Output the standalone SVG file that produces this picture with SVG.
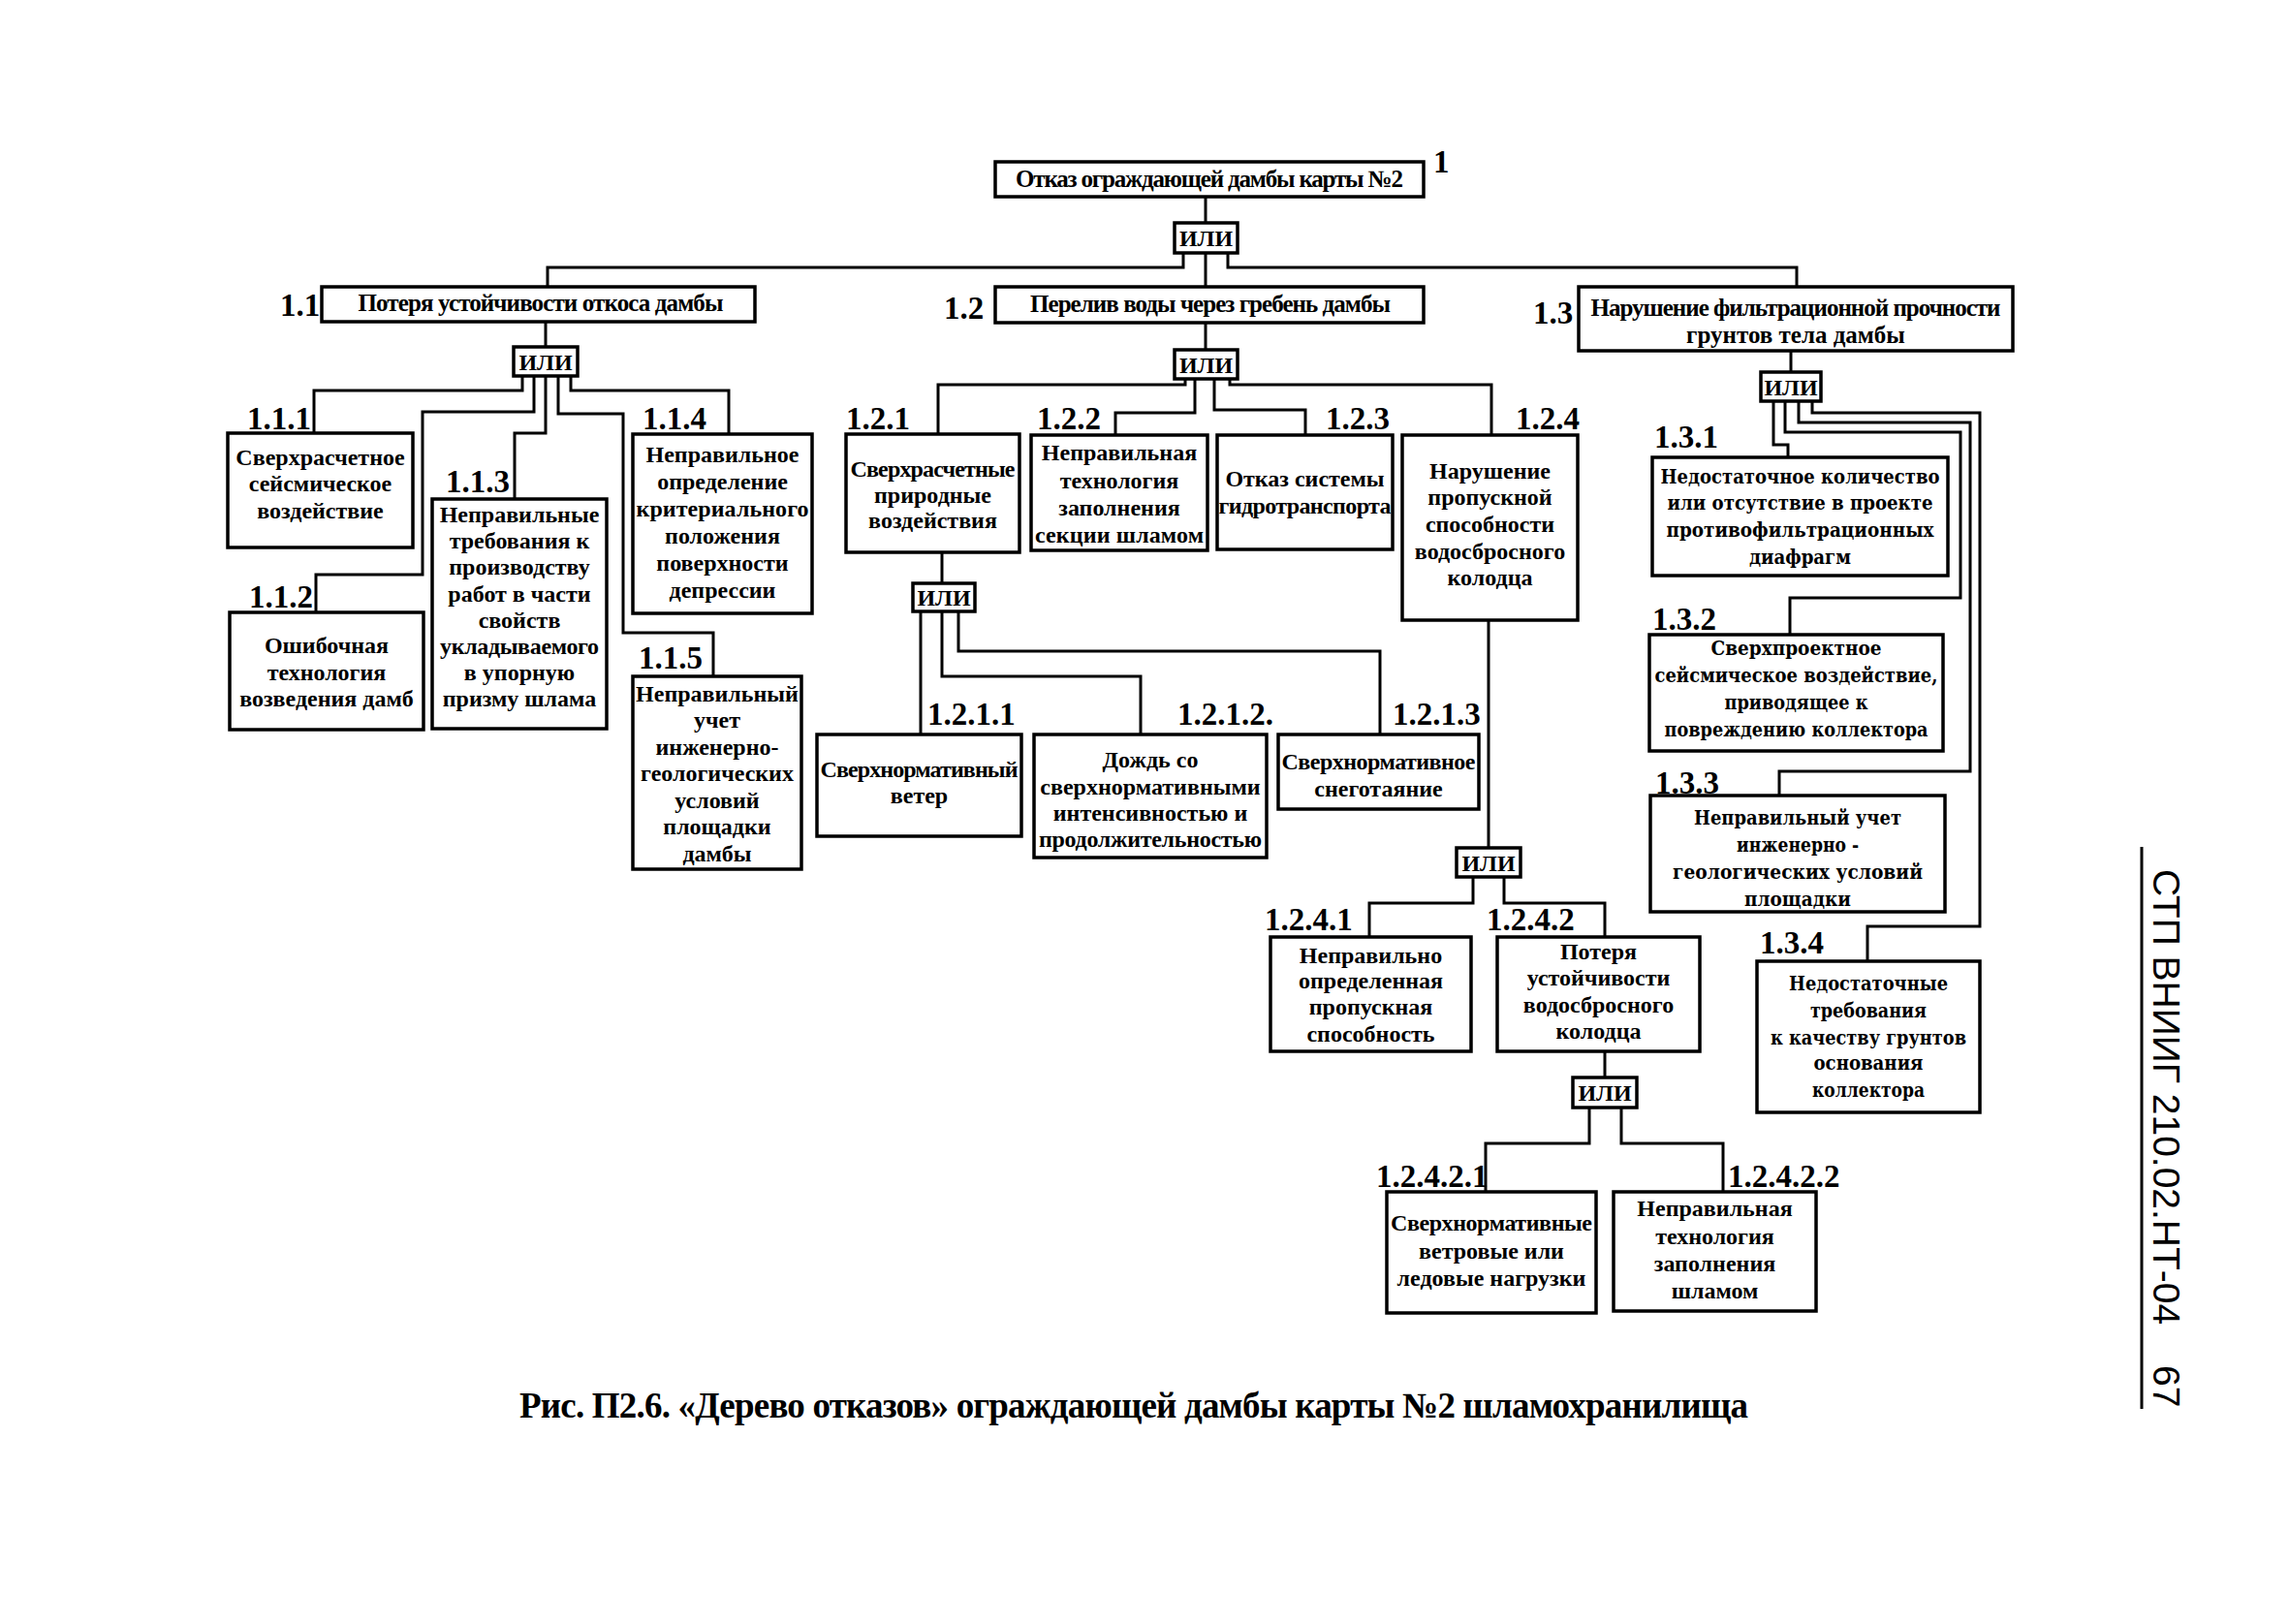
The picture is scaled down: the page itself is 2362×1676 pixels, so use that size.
<svg xmlns="http://www.w3.org/2000/svg" width="2362" height="1676" viewBox="0 0 2362 1676">
<style>
.bx{fill:#fff;stroke:#000;stroke-width:3.5}
.c{fill:none;stroke:#000;stroke-width:3}
.t{font-family:"Liberation Serif",serif;font-weight:bold;font-size:24px;text-anchor:middle}
.tn{font-family:"Liberation Serif",serif;font-weight:bold;font-size:25px;text-anchor:middle}
.w{font-family:"DejaVu Serif",serif;font-weight:bold;font-size:20px;text-anchor:middle}
.lb{font-family:"Liberation Serif",serif;font-weight:bold;font-size:33px}
.g{font-family:"Liberation Serif",serif;font-weight:bold;font-size:24px;text-anchor:middle}
.cap{font-family:"Liberation Serif",serif;font-weight:bold;font-size:37px}
.hdr{font-family:"Liberation Sans",sans-serif;font-size:39px}
</style>
<rect width="2362" height="1676" fill="#fff"/>

<g id="connectors">
<path class="c" d="M1244 203V230"/>
<path class="c" d="M1221 261V276H565V295"/>
<path class="c" d="M1244 261V296"/>
<path class="c" d="M1267 261V276H1854V296"/>
<path class="c" d="M563 332V358"/>
<path class="c" d="M539 388V403H324V447"/>
<path class="c" d="M551 388V425H436V593H326V632"/>
<path class="c" d="M563 388V447H531V515"/>
<path class="c" d="M576 388V427H643V653H736V698"/>
<path class="c" d="M589 388V403H752V448"/>
<path class="c" d="M1244 333V361"/>
<path class="c" d="M1223 391V397H968V448"/>
<path class="c" d="M1233 391V426H1151V449"/>
<path class="c" d="M1253 391V423H1347V449"/>
<path class="c" d="M1269 391V397H1539V449"/>
<path class="c" d="M972 570V602"/>
<path class="c" d="M950 631V758"/>
<path class="c" d="M972 631V698H1177V758"/>
<path class="c" d="M989 631V672H1424V758"/>
<path class="c" d="M1536 640V875"/>
<path class="c" d="M1520 905V932H1413V967"/>
<path class="c" d="M1552 905V932H1656V967"/>
<path class="c" d="M1656 1085V1112"/>
<path class="c" d="M1640 1143V1180H1533V1230"/>
<path class="c" d="M1673 1143V1180H1778V1230"/>
<path class="c" d="M1848 362V384"/>
<path class="c" d="M1830 414V459H1845V472"/>
<path class="c" d="M1842 414V446H2023V617H1847V655"/>
<path class="c" d="M1856 414V436H2033V796H1836V821"/>
<path class="c" d="M1870 414V426H2043V956H1927V992"/>
</g>

<g id="n1">
<rect class="bx" x="1027" y="167" width="442" height="36"/>
<text class="tn" x="1248" y="193" font-size="26" textLength="400">Отказ ограждающей дамбы карты №2</text>
<text class="lb" x="1479" y="178" font-size="30">1</text>
</g>
<g id="gate1"><rect class="bx" x="1212" y="230" width="65" height="31"/><text class="g" x="1244.5" y="254">ИЛИ</text></g>

<g id="n1-1">
<rect class="bx" x="332" y="296" width="447" height="36"/>
<text class="tn" x="558" y="321" textLength="377">Потеря устойчивости откоса дамбы</text>
<text class="lb" x="289" y="326" font-size="31">1.1</text>
</g>
<g id="n1-2">
<rect class="bx" x="1027" y="296" width="442" height="37"/>
<text class="tn" x="1249" y="322" textLength="372">Перелив воды через гребень дамбы</text>
<text class="lb" x="974" y="329" font-size="31">1.2</text>
</g>
<g id="n1-3">
<rect class="bx" x="1629" y="296" width="448" height="66"/>
<text class="tn" x="1853" y="326" textLength="423">Нарушение фильтрационной прочности</text>
<text class="tn" x="1853" y="354">грунтов тела дамбы</text>
<text class="lb" x="1582" y="334" font-size="31">1.3</text>
</g>

<g id="gate1-1"><rect class="bx" x="530" y="358" width="66" height="30"/><text class="g" x="563" y="382">ИЛИ</text></g>
<g id="gate1-2"><rect class="bx" x="1212" y="361" width="65" height="30"/><text class="g" x="1244.5" y="385">ИЛИ</text></g>
<g id="gate1-3"><rect class="bx" x="1817" y="384" width="62" height="30"/><text class="g" x="1848" y="408">ИЛИ</text></g>

<g id="n1-1-1">
<rect class="bx" x="235" y="447" width="191" height="118"/>
<text class="t" x="330.5" y="480">Сверхрасчетное</text>
<text class="t" x="330.5" y="507">сейсмическое</text>
<text class="t" x="330.5" y="535">воздействие</text>
<text class="lb" x="255" y="443">1.1.1</text>
</g>
<g id="n1-1-2">
<rect class="bx" x="237" y="632" width="200" height="121"/>
<text class="t" x="337" y="674">Ошибочная</text>
<text class="t" x="337" y="702">технология</text>
<text class="t" x="337" y="729">возведения дамб</text>
<text class="lb" x="257" y="627">1.1.2</text>
</g>
<g id="n1-1-3">
<rect class="bx" x="446" y="515" width="180" height="237"/>
<text class="t" x="536" y="539">Неправильные</text>
<text class="t" x="536" y="566">требования к</text>
<text class="t" x="536" y="593">производству</text>
<text class="t" x="536" y="621">работ в части</text>
<text class="t" x="536" y="648">свойств</text>
<text class="t" x="536" y="675" textLength="164">укладываемого</text>
<text class="t" x="536" y="702">в упорную</text>
<text class="t" x="536" y="729">призму шлама</text>
<text class="lb" x="460" y="508">1.1.3</text>
</g>
<g id="n1-1-4">
<rect class="bx" x="653" y="448" width="185" height="185"/>
<text class="t" x="745.5" y="477">Неправильное</text>
<text class="t" x="745.5" y="505">определение</text>
<text class="t" x="745.5" y="533" textLength="178">критериального</text>
<text class="t" x="745.5" y="561">положения</text>
<text class="t" x="745.5" y="589">поверхности</text>
<text class="t" x="745.5" y="617">депрессии</text>
<text class="lb" x="663" y="443">1.1.4</text>
</g>
<g id="n1-1-5">
<rect class="bx" x="653" y="698" width="174" height="199"/>
<text class="t" x="740" y="724">Неправильный</text>
<text class="t" x="740" y="751">учет</text>
<text class="t" x="740" y="779">инженерно-</text>
<text class="t" x="740" y="806">геологических</text>
<text class="t" x="740" y="834">условий</text>
<text class="t" x="740" y="861">площадки</text>
<text class="t" x="740" y="889">дамбы</text>
<text class="lb" x="659" y="690">1.1.5</text>
</g>

<g id="n1-2-1">
<rect class="bx" x="873" y="448" width="179" height="122"/>
<text class="t" x="962.5" y="492" textLength="170">Сверхрасчетные</text>
<text class="t" x="962.5" y="519">природные</text>
<text class="t" x="962.5" y="545">воздействия</text>
<text class="lb" x="873" y="443">1.2.1</text>
</g>
<g id="n1-2-2">
<rect class="bx" x="1064" y="449" width="182" height="119"/>
<text class="t" x="1155" y="475">Неправильная</text>
<text class="t" x="1155" y="504">технология</text>
<text class="t" x="1155" y="532">заполнения</text>
<text class="t" x="1155" y="560" textLength="174">секции шламом</text>
<text class="lb" x="1070" y="443">1.2.2</text>
</g>
<g id="n1-2-3">
<rect class="bx" x="1256" y="449" width="181" height="118"/>
<text class="t" x="1346.5" y="502">Отказ системы</text>
<text class="t" x="1346.5" y="530" textLength="178">гидротранспорта</text>
<text class="lb" x="1368" y="443">1.2.3</text>
</g>
<g id="n1-2-4">
<rect class="bx" x="1447" y="449" width="181" height="191"/>
<text class="t" x="1537.5" y="494">Нарушение</text>
<text class="t" x="1537.5" y="521">пропускной</text>
<text class="t" x="1537.5" y="549">способности</text>
<text class="t" x="1537.5" y="577">водосбросного</text>
<text class="t" x="1537.5" y="604">колодца</text>
<text class="lb" x="1564" y="443">1.2.4</text>
</g>

<g id="gate1-2-1"><rect class="bx" x="942" y="602" width="64" height="29"/><text class="g" x="974" y="625">ИЛИ</text></g>

<g id="n1-2-1-1">
<rect class="bx" x="843" y="758" width="211" height="105"/>
<text class="t" x="948.5" y="802" textLength="204">Сверхнормативный</text>
<text class="t" x="948.5" y="829">ветер</text>
<text class="lb" x="957" y="748">1.2.1.1</text>
</g>
<g id="n1-2-1-2">
<rect class="bx" x="1067" y="758" width="240" height="127"/>
<text class="t" x="1187" y="792">Дождь со</text>
<text class="t" x="1187" y="820">сверхнормативными</text>
<text class="t" x="1187" y="847">интенсивностью и</text>
<text class="t" x="1187" y="874" textLength="230">продолжительностью</text>
<text class="lb" x="1215" y="748">1.2.1.2.</text>
</g>
<g id="n1-2-1-3">
<rect class="bx" x="1319" y="758" width="207" height="77"/>
<text class="t" x="1422.5" y="794" textLength="200">Сверхнормативное</text>
<text class="t" x="1422.5" y="822">снеготаяние</text>
<text class="lb" x="1437" y="748">1.2.1.3</text>
</g>

<g id="gate1-2-4"><rect class="bx" x="1503" y="875" width="66" height="30"/><text class="g" x="1536" y="899">ИЛИ</text></g>

<g id="n1-2-4-1">
<rect class="bx" x="1311" y="967" width="207" height="118"/>
<text class="t" x="1414.5" y="994">Неправильно</text>
<text class="t" x="1414.5" y="1020">определенная</text>
<text class="t" x="1414.5" y="1047">пропускная</text>
<text class="t" x="1414.5" y="1075">способность</text>
<text class="lb" x="1305" y="960">1.2.4.1</text>
</g>
<g id="n1-2-4-2">
<rect class="bx" x="1545" y="967" width="209" height="118"/>
<text class="t" x="1649.5" y="990">Потеря</text>
<text class="t" x="1649.5" y="1017">устойчивости</text>
<text class="t" x="1649.5" y="1045">водосбросного</text>
<text class="t" x="1649.5" y="1072">колодца</text>
<text class="lb" x="1534" y="960">1.2.4.2</text>
</g>

<g id="gate1-2-4-2"><rect class="bx" x="1623" y="1112" width="66" height="31"/><text class="g" x="1656" y="1136">ИЛИ</text></g>

<g id="n1-2-4-2-1">
<rect class="bx" x="1431" y="1230" width="216" height="125"/>
<text class="t" x="1539" y="1270" textLength="208">Сверхнормативные</text>
<text class="t" x="1539" y="1299">ветровые или</text>
<text class="t" x="1539" y="1327">ледовые нагрузки</text>
<text class="lb" x="1420" y="1225">1.2.4.2.1</text>
</g>
<g id="n1-2-4-2-2">
<rect class="bx" x="1665" y="1230" width="209" height="123"/>
<text class="t" x="1769.5" y="1255">Неправильная</text>
<text class="t" x="1769.5" y="1284">технология</text>
<text class="t" x="1769.5" y="1312">заполнения</text>
<text class="t" x="1769.5" y="1340">шламом</text>
<text class="lb" x="1783" y="1225">1.2.4.2.2</text>
</g>

<g id="n1-3-1">
<rect class="bx" x="1705" y="472" width="305" height="122"/>
<text class="w" x="1857.5" y="499" textLength="288" lengthAdjust="spacingAndGlyphs">Недостаточное количество</text>
<text class="w" x="1857.5" y="526" textLength="274" lengthAdjust="spacingAndGlyphs">или отсутствие в проекте</text>
<text class="w" x="1857.5" y="554" textLength="276" lengthAdjust="spacingAndGlyphs">противофильтрационных</text>
<text class="w" x="1857.5" y="582" textLength="105" lengthAdjust="spacingAndGlyphs">диафрагм</text>
<text class="lb" x="1707" y="462">1.3.1</text>
</g>
<g id="n1-3-2">
<rect class="bx" x="1702" y="655" width="303" height="120"/>
<text class="w" x="1853.5" y="676" textLength="176" lengthAdjust="spacingAndGlyphs">Сверхпроектное</text>
<text class="w" x="1853.5" y="704" textLength="292" lengthAdjust="spacingAndGlyphs">сейсмическое воздействие,</text>
<text class="w" x="1853.5" y="732" textLength="148" lengthAdjust="spacingAndGlyphs">приводящее к</text>
<text class="w" x="1853.5" y="760" textLength="272" lengthAdjust="spacingAndGlyphs">повреждению коллектора</text>
<text class="lb" x="1705" y="650">1.3.2</text>
</g>
<g id="n1-3-3">
<rect class="bx" x="1703" y="821" width="304" height="120"/>
<text class="w" x="1855" y="851" textLength="214" lengthAdjust="spacingAndGlyphs">Неправильный учет</text>
<text class="w" x="1855" y="879" textLength="126" lengthAdjust="spacingAndGlyphs">инженерно -</text>
<text class="w" x="1855" y="907" textLength="258" lengthAdjust="spacingAndGlyphs">геологических условий</text>
<text class="w" x="1855" y="935" textLength="110" lengthAdjust="spacingAndGlyphs">площадки</text>
<text class="lb" x="1708" y="819">1.3.3</text>
</g>
<g id="n1-3-4">
<rect class="bx" x="1813" y="992" width="230" height="156"/>
<text class="w" x="1928" y="1022" textLength="164" lengthAdjust="spacingAndGlyphs">Недостаточные</text>
<text class="w" x="1928" y="1050" textLength="120" lengthAdjust="spacingAndGlyphs">требования</text>
<text class="w" x="1928" y="1078" textLength="202" lengthAdjust="spacingAndGlyphs">к качеству грунтов</text>
<text class="w" x="1928" y="1104" textLength="113" lengthAdjust="spacingAndGlyphs">основания</text>
<text class="w" x="1928" y="1132" textLength="116" lengthAdjust="spacingAndGlyphs">коллектора</text>
<text class="lb" x="1816" y="984">1.3.4</text>
</g>

<text class="cap" x="536" y="1463" textLength="1268">Рис. П2.6. «Дерево отказов» ограждающей дамбы  карты №2 шламохранилища</text>

<line x1="2210" y1="874" x2="2210" y2="1454" stroke="#000" stroke-width="3"/>
<text class="hdr" transform="translate(2222 897) rotate(90)">СТП ВНИИГ 210.02.НТ-04</text>
<text class="hdr" transform="translate(2222 1409) rotate(90)">67</text>
</svg>
